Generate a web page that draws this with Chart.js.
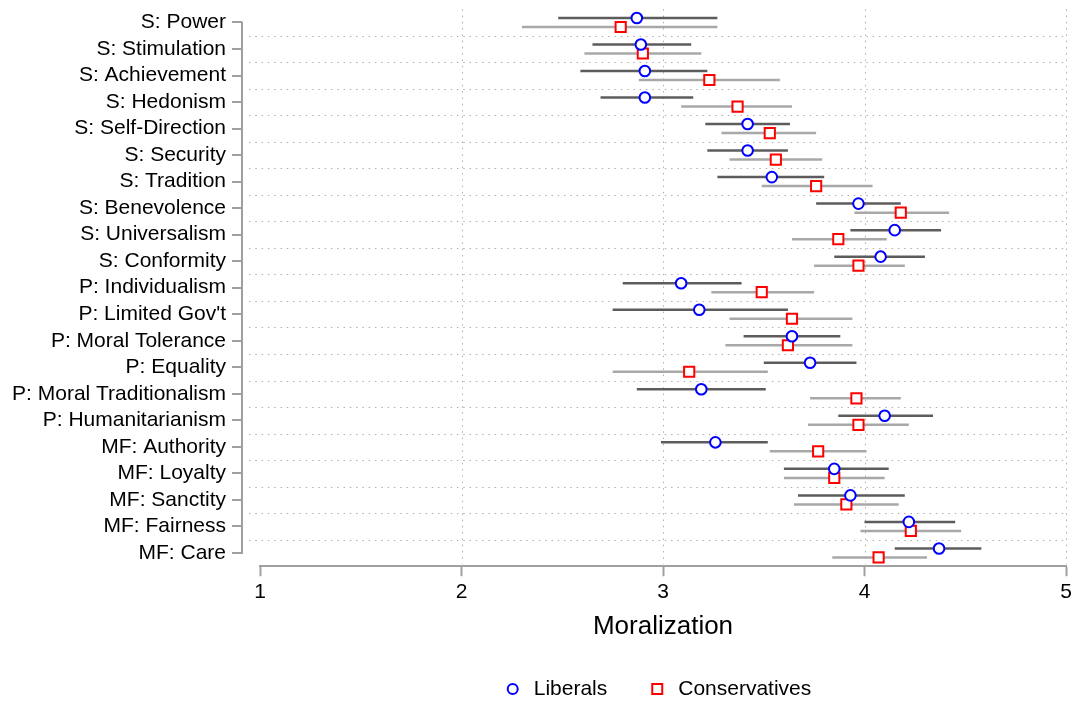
<!DOCTYPE html>
<html>
<head>
<meta charset="utf-8">
<script src="https://cdn.jsdelivr.net/npm/chart.js@4.4.1/dist/chart.umd.min.js"></script>
<style>
  html, body { margin: 0; padding: 0; background: #ffffff; }
  #wrap { width: 1077px; height: 703px; }
</style>
</head>
<body>
<div id="wrap"><canvas id="c" width="1077" height="703"></canvas></div>
<script>
const categories = ["S: Power","S: Stimulation","S: Achievement","S: Hedonism","S: Self-Direction","S: Security","S: Tradition","S: Benevolence","S: Universalism","S: Conformity","P: Individualism","P: Limited Gov't","P: Moral Tolerance","P: Equality","P: Moral Traditionalism","P: Humanitarianism","MF: Authority","MF: Loyalty","MF: Sanctity","MF: Fairness","MF: Care"];

const libMean = [2.87, 2.89, 2.91, 2.91, 3.42, 3.42, 3.54, 3.97, 4.15, 4.08, 3.09, 3.18, 3.64, 3.73, 3.19, 4.10, 3.26, 3.85, 3.93, 4.22, 4.37];
const libLow  = [2.48, 2.65, 2.59, 2.69, 3.21, 3.22, 3.27, 3.76, 3.93, 3.85, 2.80, 2.75, 3.40, 3.50, 2.87, 3.87, 2.99, 3.60, 3.67, 4.00, 4.15];
const libHigh = [3.27, 3.14, 3.22, 3.15, 3.63, 3.62, 3.80, 4.18, 4.38, 4.30, 3.39, 3.62, 3.88, 3.96, 3.51, 4.34, 3.52, 4.12, 4.20, 4.45, 4.58];

const conMean = [2.79, 2.90, 3.23, 3.37, 3.53, 3.56, 3.76, 4.18, 3.87, 3.97, 3.49, 3.64, 3.62, 3.13, 3.96, 3.97, 3.77, 3.85, 3.91, 4.23, 4.07];
const conLow  = [2.30, 2.61, 2.88, 3.09, 3.29, 3.33, 3.49, 3.95, 3.64, 3.75, 3.24, 3.33, 3.31, 2.75, 3.73, 3.72, 3.53, 3.60, 3.65, 3.98, 3.84];
const conHigh = [3.27, 3.19, 3.58, 3.64, 3.76, 3.79, 4.04, 4.42, 4.11, 4.20, 3.75, 3.94, 3.94, 3.52, 4.18, 4.22, 4.01, 4.10, 4.17, 4.48, 4.31];

const xTicks = [1, 2, 3, 4, 5];
const xGridValues = [2, 3, 4, 5];
const seriesNames = ["Liberals", "Conservatives"];

// style constants
const FONT = "'Liberation Sans', Arial, Helvetica, sans-serif";
const OFFSET = 0.17;
const LIB_COLOR = '#0000ff', CON_COLOR = '#ff0000';
const LIB_BAR = '#5c5c5c', CON_BAR = '#a8a8a8';
const AXIS_COLOR = '#a0a0a0', GRID_COLOR = '#b0b0b0';
const DOTS = [1.5, 4.8];

const libPoints = libMean.map((v, i) => ({x: v, y: i - OFFSET}));
const conPoints = conMean.map((v, i) => ({x: v, y: i + OFFSET}));

const decorPlugin = {
  id: 'decor',
  beforeDatasetsDraw(chart) {
    const {ctx, chartArea, scales: {x, y}} = chart;
    ctx.save();
    ctx.strokeStyle = GRID_COLOR;
    ctx.lineWidth = 1;
    ctx.setLineDash(DOTS);
    // vertical dotted grid lines
    xGridValues.forEach(v => {
      const px = Math.round(x.getPixelForValue(v)) + 0.5;
      ctx.beginPath();
      ctx.moveTo(px, chartArea.top);
      ctx.lineTo(px, chartArea.bottom - 2);
      ctx.stroke();
    });
    // horizontal dotted separators between categories
    for (let i = 0; i < categories.length - 1; i++) {
      const py = Math.round(y.getPixelForValue(i + 0.5)) + 0.5;
      ctx.beginPath();
      ctx.moveTo(chartArea.left - 11, py);
      ctx.lineTo(chartArea.right, py);
      ctx.stroke();
    }
    ctx.setLineDash([]);
    // left axis line with category ticks
    const ax = chartArea.left - 18;
    ctx.strokeStyle = AXIS_COLOR;
    ctx.lineWidth = 2;
    ctx.beginPath();
    ctx.moveTo(ax, y.getPixelForValue(0) - 1);
    ctx.lineTo(ax, y.getPixelForValue(categories.length - 1) + 1);
    ctx.stroke();
    for (let i = 0; i < categories.length; i++) {
      const py = Math.round(y.getPixelForValue(i));
      ctx.beginPath();
      ctx.moveTo(ax - 10, py);
      ctx.lineTo(ax, py);
      ctx.stroke();
    }
    // confidence intervals
    ctx.lineWidth = 2.5;
    ctx.lineCap = 'butt';
    for (let i = 0; i < categories.length; i++) {
      let py = y.getPixelForValue(i - OFFSET);
      ctx.strokeStyle = LIB_BAR;
      ctx.beginPath();
      ctx.moveTo(x.getPixelForValue(libLow[i]), py);
      ctx.lineTo(x.getPixelForValue(libHigh[i]), py);
      ctx.stroke();
      py = y.getPixelForValue(i + OFFSET);
      ctx.strokeStyle = CON_BAR;
      ctx.beginPath();
      ctx.moveTo(x.getPixelForValue(conLow[i]), py);
      ctx.lineTo(x.getPixelForValue(conHigh[i]), py);
      ctx.stroke();
    }
    ctx.restore();
  },
  afterDraw(chart) {
    const {ctx, chartArea} = chart;
    ctx.save();
    ctx.font = '21px ' + FONT;
    ctx.textBaseline = 'middle';
    ctx.fillStyle = '#000000';
    const markerW = 12, gap = 15, itemGap = 44;
    const w1 = ctx.measureText(seriesNames[0]).width;
    const w2 = ctx.measureText(seriesNames[1]).width;
    const total = markerW + gap + w1 + itemGap + markerW + gap + w2;
    const cx = (chartArea.left + chartArea.right) / 2 - 4;
    const ly = 689;
    let sx = cx - total / 2;
    ctx.lineWidth = 2;
    ctx.strokeStyle = LIB_COLOR;
    ctx.beginPath();
    ctx.arc(sx + markerW / 2, ly, 5, 0, Math.PI * 2);
    ctx.stroke();
    ctx.textAlign = 'left';
    ctx.fillText(seriesNames[0], sx + markerW + gap, ly);
    sx += markerW + gap + w1 + itemGap;
    ctx.strokeStyle = CON_COLOR;
    ctx.strokeRect(sx + 1, ly - 5, 10, 10);
    ctx.fillText(seriesNames[1], sx + markerW + gap, ly);
    ctx.restore();
  }
};

new Chart(document.getElementById('c'), {
  type: 'scatter',
  data: {
    datasets: [
      {
        label: seriesNames[0],
        data: libPoints,
        pointStyle: 'circle',
        pointRadius: 5.3,
        pointHoverRadius: 5.3,
        borderWidth: 2,
        borderColor: LIB_COLOR,
        backgroundColor: '#ffffff'
      },
      {
        label: seriesNames[1],
        data: conPoints,
        pointStyle: 'rect',
        pointRadius: 7.2,
        pointHoverRadius: 7.2,
        borderWidth: 2,
        borderColor: CON_COLOR,
        backgroundColor: '#ffffff'
      }
    ]
  },
  options: {
    responsive: false,
    animation: false,
    events: [],
    layout: { padding: { top: 5, right: 11, bottom: 0, left: 0 } },
    plugins: {
      legend: { display: false },
      tooltip: { enabled: false }
    },
    scales: {
      x: {
        type: 'linear',
        position: 'bottom',
        min: 1,
        max: 5,
        afterBuildTicks: (s) => { s.ticks = xTicks.map(v => ({value: v})); },
        afterFit: (s) => { s.height = 136.8; s.paddingLeft = 0; s.paddingRight = 0; },
        ticks: {
          color: '#000000',
          font: { family: FONT, size: 21 },
          padding: 3,
          maxRotation: 0,
          autoSkip: false
        },
        grid: {
          color: 'rgba(0,0,0,0)',
          lineWidth: 1,
          drawTicks: true,
          tickLength: 10,
          tickColor: AXIS_COLOR,
          tickWidth: 2,
          tickBorderDash: []
        },
        border: { display: true, color: AXIS_COLOR, width: 2 },
        title: {
          display: true,
          text: 'Moralization',
          color: '#000000',
          font: { family: FONT, size: 26 },
          padding: { top: 4, bottom: 61 }
        }
      },
      y: {
        type: 'linear',
        reverse: true,
        min: -0.5,
        max: categories.length - 0.5,
        afterBuildTicks: (s) => { s.ticks = categories.map((_, i) => ({value: i})); },
        afterFit: (s) => { s.width = 260; s.paddingTop = 0; s.paddingBottom = 0; },
        ticks: {
          color: '#000000',
          font: { family: FONT, size: 21 },
          padding: 4,
          autoSkip: false,
          callback: (v) => categories[v] !== undefined ? categories[v] : ''
        },
        grid: {
          display: true,
          color: 'rgba(0,0,0,0)',
          drawTicks: true,
          tickLength: 30
        },
        border: { display: false }
      }
    }
  },
  plugins: [decorPlugin]
});
</script>
</body>
</html>
